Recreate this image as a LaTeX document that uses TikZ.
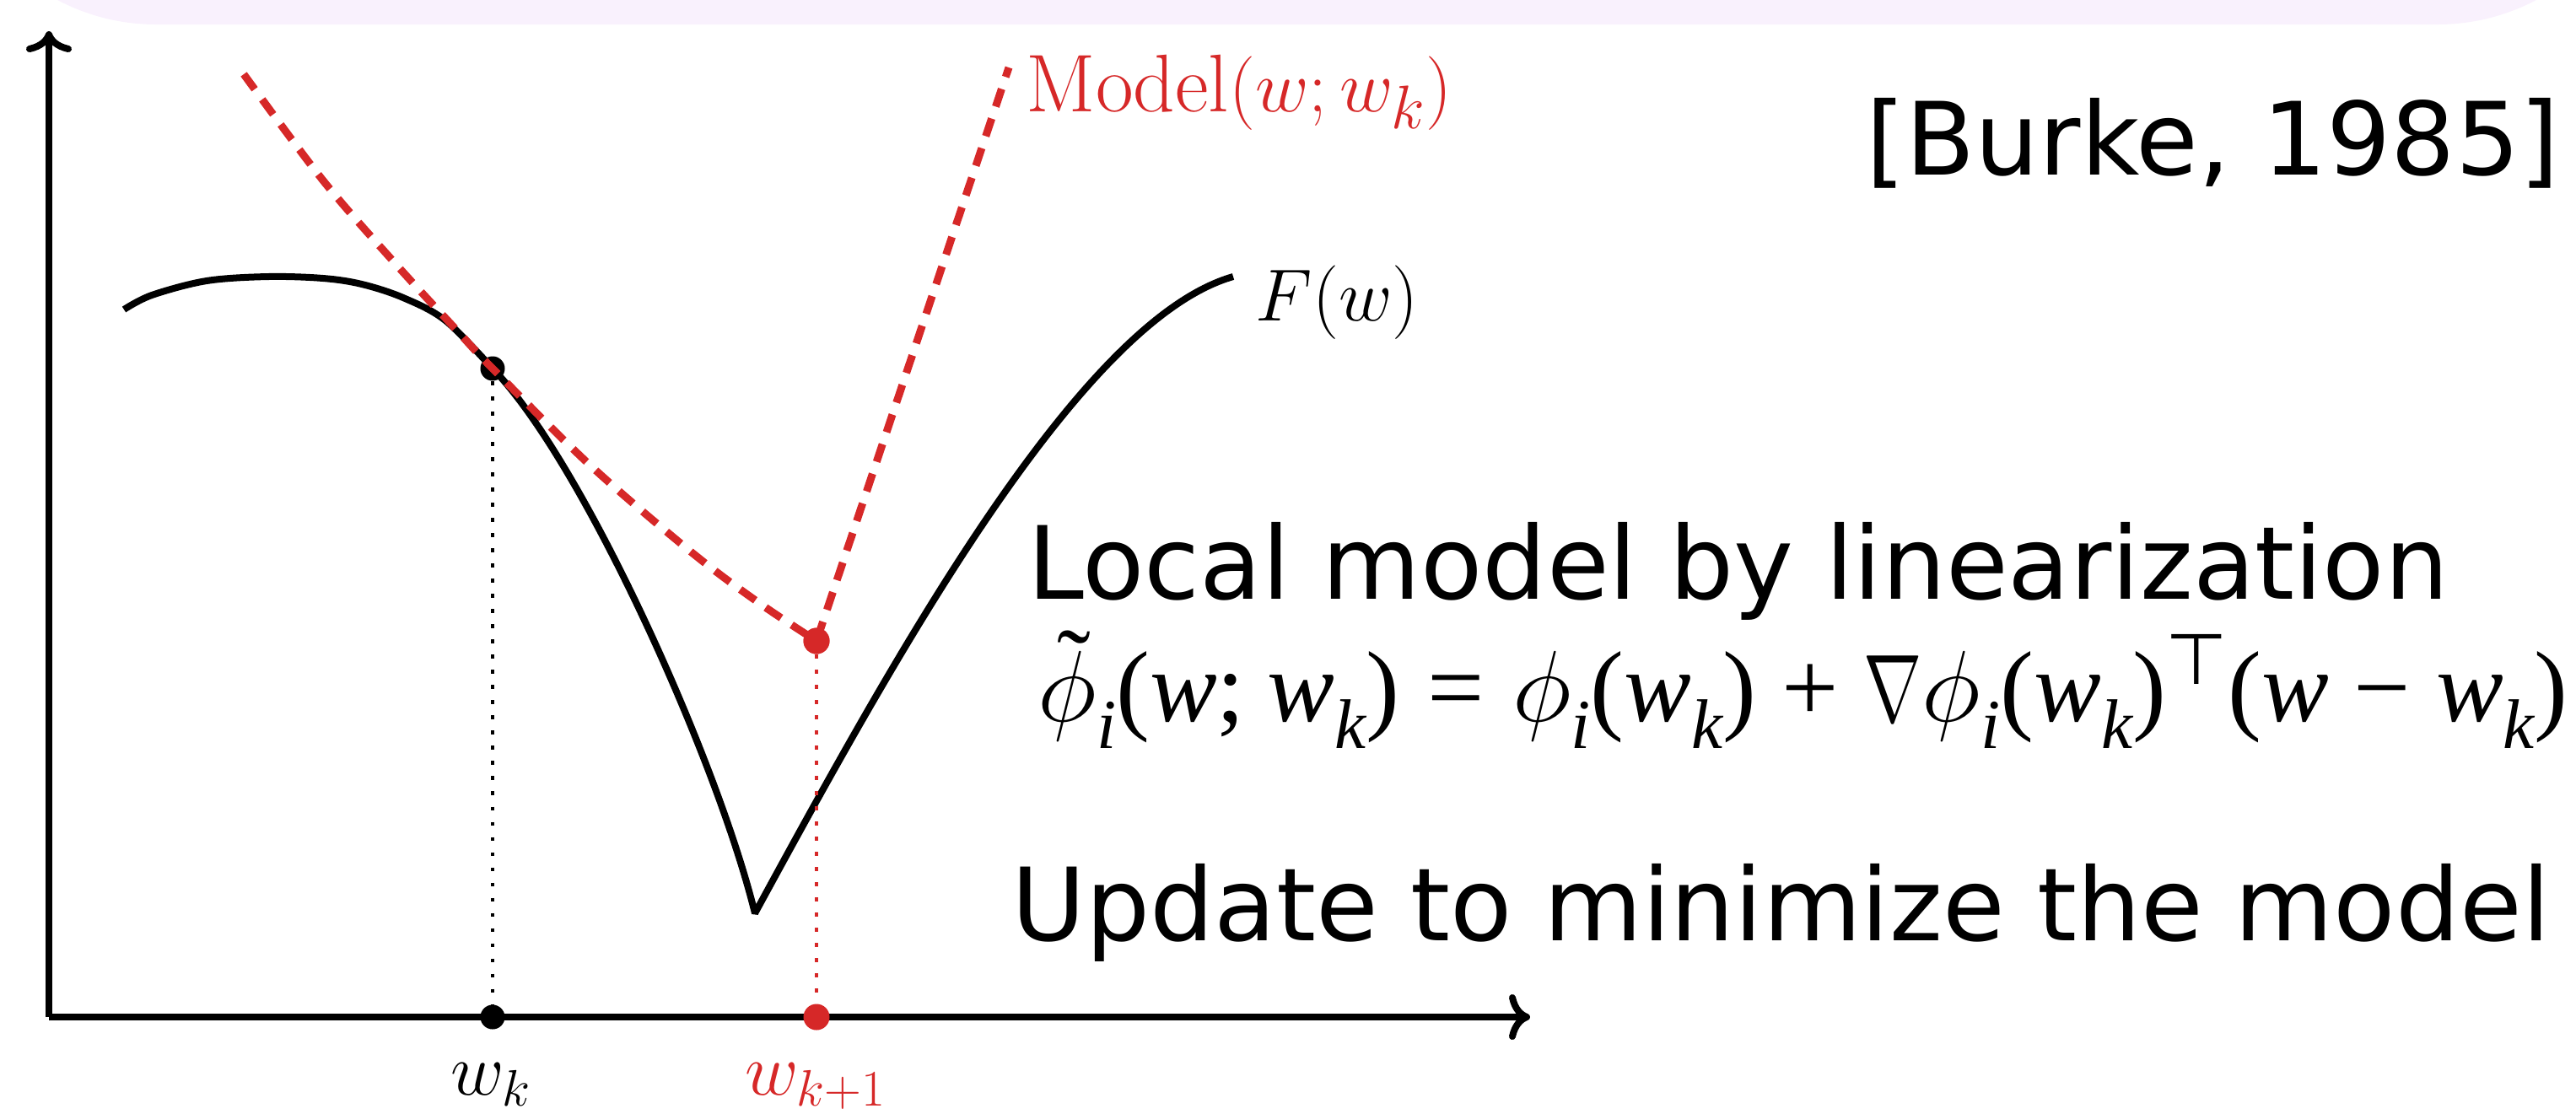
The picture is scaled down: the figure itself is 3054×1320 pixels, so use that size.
\documentclass[tikz,border=0pt]{standalone}
\usepackage{graphicx}
\usepackage{fontspec}
\newfontfamily\dvs{DejaVu Sans}
\newfontfamily\eqf{Liberation Serif}
\newfontfamily\symf{DejaVu Sans}
\usetikzlibrary{arrows.meta}
\definecolor{mred}{RGB}{214,40,40}
\definecolor{lav}{RGB}{249,241,253}
\newcommand\vi[1]{{\itshape #1}}
\newcommand\sbx[1]{\raisebox{-0.27em}{\fontsize{23.7}{28}\selectfont\itshape #1}}
\newcommand\spx[1]{\raisebox{0.36em}{\fontsize{24}{28}\selectfont #1}}
\newcommand\nab{\scalebox{0.95}[1.3]{$\nabla$}}
\newcommand\bphi{\scalebox{1.37}{$\phi$}}
\newcommand\tbphi{\ooalign{\bphi\cr\hidewidth\raisebox{0.22em}{\kern0.14em˜}\hidewidth\cr}}
\tikzset{
  axis/.style={line width=0.08cm, -{Computer Modern Rightarrow[length=0.25cm,width=0.54cm,line cap=round]}},
  fcurve/.style={line width=0.08cm, line join=bevel},
  mcurve/.style={mred, line width=0.09cm, dash pattern=on 0.22cm off 0.15cm},
  bdot/.style={black, line width=0.045cm, dash pattern=on 0.045cm off 0.135cm},
  rdot/.style={mred, line width=0.045cm, dash pattern=on 0.045cm off 0.135cm},
  ptb/.style={circle, fill=black, inner sep=0, minimum size=0.29cm},
  ptr/.style={circle, fill=mred, inner sep=0, minimum size=0.31cm},
  bigtxt/.style={font=\dvs\fontsize{34.1}{40}\selectfont, inner sep=0, anchor=base west},
  eqtxt/.style={font=\eqf\fontsize{34}{40}\selectfont, inner sep=0, anchor=base west},
  mtxt/.style={font=\fontsize{27.6}{32}\selectfont, inner sep=0},
  wtxt/.style={font=\fontsize{25.5}{30}\selectfont, inner sep=0},
}
\begin{document}
\begin{tikzpicture}[x=0.01cm, y=-0.01cm]
\useasboundingbox (0,0) rectangle (3054,1320);
\begin{scope}
\clip (0,0) rectangle (3054,1320);
\fill[lav, rounded corners=2.5cm] (-65,-400) rectangle (3140,29);
\end{scope}
% axes
\coordinate (O) at (58,1206);
\coordinate (xend) at (1814,1206);
\coordinate (yend) at (58,37);
\draw[axis] (O) -- (xend);
\draw[axis] (O) -- (yend);
% F(w)
\draw[fcurve] plot[smooth, tension=0.55] coordinates {(147,367) (180,350) (245,333) (318,328) (383,330) (429,337) (478,353) (528,380) (584,437)}
  .. controls (690,545) and (850,900) .. (895,1083)
  .. controls (1060,780) and (1280,380) .. (1462,328);
% nodes for points
\node[ptb] (pk) at (584,437) {};
\node[ptb] (ak) at (584,1206) {};
\node[ptr] (pk1) at (968,760) {};
\node[ptr] (ak1) at (968,1206) {};
\coordinate (mtop) at (1196,80);
% model
\draw[mcurve] plot[smooth, tension=0.55] coordinates {(289,88) (383,214) (470,314) (540,390) (584,437) (700,552) (820,655) (900,715) (968,760)} -- (mtop);
\node[ptr] at (pk1) {};
% dotted verticals
\draw[bdot] (pk) -- (ak);
\draw[rdot] (pk1) -- (ak1);
% labels
\node[mtxt, anchor=base west, text=mred] (mlab) at (1216,132) {$\mathrm{Model}(w;w_k)$};
\node[mtxt, anchor=base west] (flab) at (1488,380) {$F(w)$};
\node[wtxt, anchor=base] (wk) at (582,1298) {$w_k$};
\node[wtxt, anchor=base, text=mred] (wk1) at (967,1298) {$w_{k+1}$};
\node[bigtxt] (burke) at (2212,207) {[Burke, 1985]};
\node[bigtxt] (local) at (1218,710) {Local model by linearization};
\node[eqtxt] (eq) at (1230,855) {\tbphi\sbx{i}(\vi{w};\hspace{0.22em}\vi{w}\sbx{k})\hspace{0.28em}=\hspace{0.28em}\bphi\sbx{i}(\vi{w}\sbx{k})\hspace{0.25em}+\hspace{0.25em}\nab\bphi\sbx{i}(\vi{w}\sbx{k})\spx{\symf ⊤}(\vi{w}\hspace{0.25em}−\hspace{0.25em}\vi{w}\sbx{k})};
\node[bigtxt] (upd) at (1199,1115) {Update to minimize the model};
\end{tikzpicture}
\end{document}
